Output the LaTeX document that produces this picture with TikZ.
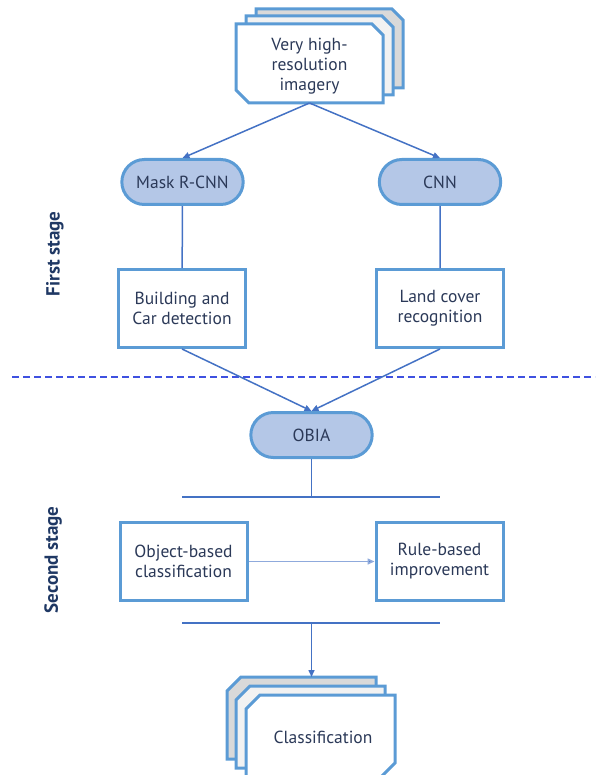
\documentclass[tikz,border=0pt]{standalone}
\usepackage{fontspec}
\setmainfont{PT Sans}
\usepackage{xcolor}
\usetikzlibrary{arrows.meta,
                positioning,
                shapes.misc}

\definecolor{boxblue}{HTML}{5B9BD5}
\definecolor{linkblue}{HTML}{4472C4}
\definecolor{pillfill}{HTML}{B4C7E7}
\definecolor{txtnavy}{HTML}{2B3958}
\definecolor{stagenavy}{HTML}{1F3864}
\definecolor{sheetdark}{HTML}{D9D9D9}
\definecolor{sheetlight}{HTML}{F2F2F2}
\definecolor{dashblue}{HTML}{3F51E0}
\definecolor{arrowlight}{HTML}{8FAADC}

\tikzset{
  boxfont/.style={font=\fontsize{17.5}{20}\selectfont, text=txtnavy},
  pill/.style={rounded rectangle, draw=boxblue, line width=3pt, fill=pillfill,
               minimum width=128pt, minimum height=45pt, boxfont},
  taskbox/.style={rectangle, draw=boxblue, line width=3pt, fill=white,
                  minimum width=127pt, minimum height=78pt, align=center, boxfont},
  sheetline/.style={draw=boxblue, line width=3pt, line join=miter},
  link/.style={draw=linkblue, line width=1.5pt},
  arr/.style={link, -{Triangle[length=7pt,width=6pt]}},
  stagelabel/.style={rotate=90, font=\fontsize{19}{22}\selectfont\bfseries, text=stagenavy}
}

\begin{document}
\begin{tikzpicture}[x=1pt,y=-1pt]
\useasboundingbox (0,0) rectangle (595,775);

% input imagery stack
\foreach \x/\y/\col in {256/9/sheetdark, 246/16/sheetlight, 236/24/white}
  \draw[sheetline, fill=\col, shift={(\x,\y)}]
    (0,0) -- (136,0) -- (147,11) -- (147,79) -- (13,79) -- (0,66) -- cycle;
\node[boxfont, align=center] (img) at (309.5,66) {Very high-\\resolution\\imagery};
\coordinate (imgbottom) at (309.5,103);

% first stage
\node[pill] (maskrcnn) at (182.5,182) {Mask R-CNN};
\node[pill] (cnn) at (440,182) {CNN};
\node[taskbox] (detect) at (182,308.5) {Building and\\Car detection};
\node[taskbox] (landcover) at (440,308.5) {Land cover\\recognition};

\draw[arr] (imgbottom) -- (maskrcnn.north);
\draw[arr] (imgbottom) -- (cnn.north);
\draw[link] (maskrcnn) -- (detect);
\draw[link] (cnn) -- (landcover);

\node[stagelabel] (firststage) at (55,254) {First stage};

% stage separator
\coordinate (sepL) at (12,377);
\coordinate (sepR) at (595,377);
\draw[dashblue, line width=1.5pt, dash pattern=on 7pt off 4pt] (sepL) -- (sepR);

% second stage
\node[pill] (obia) at (311.5,435) {OBIA};
\draw[arr] (detect.south) -- (obia.north);
\draw[arr] (landcover.south) -- (obia.north);

\coordinate (topbarL) at (182,497);
\coordinate (topbarR) at (440,497);
\coordinate (botbarL) at (182,623);
\coordinate (botbarR) at (440,623);
\coordinate (botbar) at (311.5,623);

\draw[link] (obia.south) -- (obia.south |- topbarL);
\draw[link] (topbarL) -- (topbarR);

\node[taskbox] (objcls) at (183.5,561.5) {Object-based\\classification};
\node[taskbox] (rulebased) at (439.5,561.5) {Rule-based\\improvement};
\draw[arrowlight, line width=1.5pt, -{Triangle[length=7pt,width=6pt,fill=linkblue]}]
  (objcls) -- (rulebased);

\draw[link] (botbarL) -- (botbarR);

\node[stagelabel] (secondstage) at (53,560) {Second stage};

% output classification stack
\foreach \x/\y/\col in {227/677/sheetdark, 236/686/sheetlight, 246/695/white}
  \draw[sheetline, fill=\col, shift={(\x,\y)}]
    (14,0) -- (149,0) -- (149,68) -- (135,82) -- (0,82) -- (0,14) -- cycle;
\node[boxfont] (result) at (323,737) {Classification};
\coordinate (resulttop) at (311.5,677);

\draw[arr] (botbar) -- (resulttop);
\end{tikzpicture}
\end{document}
